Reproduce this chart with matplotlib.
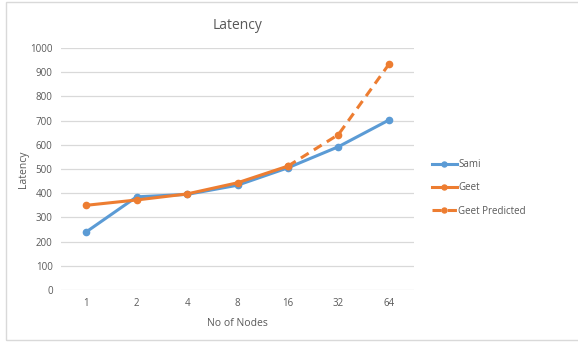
import matplotlib.pyplot as plt
from matplotlib.patches import Rectangle

plt.rcParams['font.family'] = ['Open Sans', 'DejaVu Sans']

nodes = ['1', '2', '4', '8', '16', '32', '64']
sami = [240, 385, 395, 433, 505, 592, 702]
geet = [350, 372, 397, 443, 512]
geet_predicted = [512, 642, 932]

blue = '#5B9BD5'
orange = '#ED7D31'
grey_text = '#595959'

fig = plt.figure(figsize=(5.78, 3.46), dpi=100)
fig.patches.append(Rectangle((6 / 578, 6 / 346), 1.2, 338 / 346, transform=fig.transFigure,
                             fill=False, edgecolor='#D9D9D9', linewidth=1))

ax = fig.add_axes([61 / 578, 1 - 290 / 346, 353 / 578, 242 / 346])

x = list(range(len(nodes)))
ax.plot(x, sami, color=blue, linewidth=2.2, marker='o', markersize=4.5, label='Sami')
ax.plot(x[:len(geet)], geet, color=orange, linewidth=2.2, marker='o', markersize=4.5, label='Geet')
ax.plot(x[len(geet) - 1:], geet_predicted, color=orange, linewidth=2.2, linestyle=(0, (3, 2)),
        marker='o', markersize=4.5, label='Geet Predicted')

ax.set_xlim(-0.5, len(nodes) - 0.5)
ax.set_ylim(0, 1000)
ax.set_yticks(range(0, 1001, 100))
ax.set_xticks(x)
ax.set_xticklabels(nodes)
ax.grid(axis='y', color='#D9D9D9', linewidth=0.9)
ax.set_axisbelow(True)
for s in ax.spines.values():
    s.set_visible(False)
ax.tick_params(length=0, labelsize=7, colors=grey_text, pad=6)

ax.set_title('Latency', fontsize=10, color=grey_text, pad=14)
ax.set_xlabel('No of Nodes', fontsize=7.5, color=grey_text, labelpad=6)
ax.set_ylabel('Latency', fontsize=7.5, color=grey_text, labelpad=1)

ax.legend(loc='center left', bbox_to_anchor=(423 / 578, 1 - 188 / 346), bbox_transform=fig.transFigure,
          frameon=False, fontsize=7, labelcolor=grey_text, handlelength=2.6, handletextpad=0.1,
          labelspacing=1.25, markerscale=0.8)

fig.savefig('out.png', dpi=100)
